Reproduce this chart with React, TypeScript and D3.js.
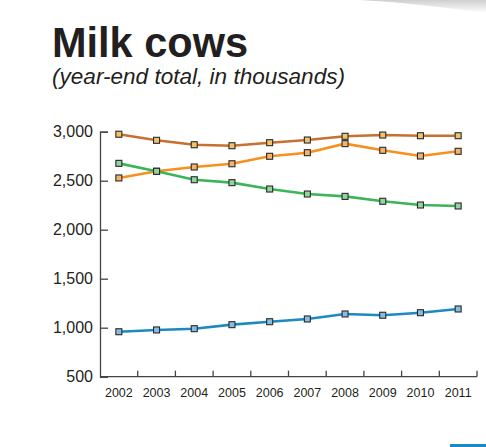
import React, { useRef, useEffect } from "react";
import * as d3 from "d3";

const years = ["2002", "2003", "2004", "2005", "2006", "2007", "2008", "2009", "2010", "2011"];

// (thousands of head)
const brownSeries = [2974, 2912, 2867, 2857, 2888, 2915, 2953, 2966, 2959, 2959];
const orangeSeries = [2528, 2596, 2640, 2673, 2749, 2786, 2878, 2810, 2752, 2800];
const greenSeries = [2677, 2596, 2510, 2480, 2415, 2364, 2340, 2290, 2252, 2242];
const blueSeries = [959, 977, 990, 1031, 1061, 1089, 1140, 1127, 1153, 1191];

const yTicks = [500, 1000, 1500, 2000, 2500, 3000];

const seriesList = [
  { name: "brown", values: brownSeries, line: "#c7702f", fill: "#f1c36a" },
  { name: "orange", values: orangeSeries, line: "#f7901e", fill: "#f4b56b" },
  { name: "green", values: greenSeries, line: "#3bb557", fill: "#92d3a0" },
  { name: "blue", values: blueSeries, line: "#1b8ac0", fill: "#86bde0" },
];

const App: React.FC = () => {
  const svgRef = useRef<SVGSVGElement | null>(null);

  useEffect(() => {
    const width = 486;
    const left = 100;
    const right = 477;
    const top = 131.7;
    const bottom = 376.7;

    const svg = d3.select(svgRef.current);
    svg.selectAll("*").remove();

    // page shadow top right
    const defs = svg.append("defs");
    const grad = defs.append("linearGradient")
      .attr("id", "shade")
      .attr("x1", 0).attr("y1", 0).attr("x2", 0).attr("y2", 1);
    grad.append("stop").attr("offset", "0%").attr("stop-color", "#cfcfcf");
    grad.append("stop").attr("offset", "100%").attr("stop-color", "#ffffff");
    svg.append("path")
      .attr("d", `M360,0 L${width},0 L${width},13 C440,7 400,2 360,0 Z`)
      .attr("fill", "url(#shade)");

    // blue tab bottom right
    svg.append("rect")
      .attr("x", 450).attr("y", 444).attr("width", 36).attr("height", 3)
      .attr("fill", "#1b8ac0");

    // titles
    svg.append("text")
      .attr("x", 52)
      .attr("y", 57)
      .attr("textLength", 196)
      .attr("lengthAdjust", "spacingAndGlyphs")
      .style("font-family", "'Liberation Sans', Arial, sans-serif")
      .style("font-weight", "bold")
      .style("font-size", "43px")
      .attr("fill", "#231f20")
      .text("Milk cows");

    svg.append("text")
      .attr("x", 52)
      .attr("y", 84)
      .attr("textLength", 293)
      .attr("lengthAdjust", "spacingAndGlyphs")
      .style("font-family", "'Liberation Sans', Arial, sans-serif")
      .style("font-style", "italic")
      .style("font-size", "22px")
      .attr("fill", "#231f20")
      .text("(year-end total, in thousands)");

    const x = d3.scaleBand<string>().domain(years).range([left, right]);
    const y = d3.scaleLinear().domain([500, 3000]).range([bottom, top]);

    // y axis, ticks pointing into the plot
    const yAxis = d3.axisLeft(y)
      .tickValues(yTicks)
      .tickSize(-8)
      .tickPadding(7)
      .tickFormat((d) => d3.format(",")(d as number));
    const gy = svg.append("g").attr("transform", `translate(${left},0)`).call(yAxis);
    gy.select(".domain").attr("stroke", "#444").attr("stroke-width", 1.3);
    gy.selectAll(".tick line").attr("stroke", "#444").attr("stroke-width", 1.3);
    gy.selectAll(".tick text")
      .attr("fill", "#231f20")
      .style("font-family", "'Liberation Sans', Arial, sans-serif")
      .style("font-size", "16px");

    // x axis with ticks at band boundaries
    const gx = svg.append("g").attr("transform", `translate(0,${bottom})`);
    gx.append("line")
      .attr("x1", left).attr("x2", right).attr("y1", 0).attr("y2", 0)
      .attr("stroke", "#444").attr("stroke-width", 1.3);
    gx.selectAll("line.tk")
      .data(years)
      .join("line")
      .attr("class", "tk")
      .attr("x1", (d) => (x(d) as number) + x.bandwidth())
      .attr("x2", (d) => (x(d) as number) + x.bandwidth())
      .attr("y1", 0).attr("y2", -6)
      .attr("stroke", "#444").attr("stroke-width", 1.3);
    gx.selectAll("text")
      .data(years)
      .join("text")
      .attr("x", (d) => (x(d) as number) + x.bandwidth() / 2)
      .attr("y", 20)
      .attr("text-anchor", "middle")
      .attr("fill", "#231f20")
      .style("font-family", "'Liberation Sans', Arial, sans-serif")
      .style("font-size", "12.5px")
      .text((d) => d);

    const line = d3.line<number>()
      .x((_, i) => (x(years[i]) as number) + x.bandwidth() / 2)
      .y((d) => y(d));

    seriesList.forEach((s) => {
      const g = svg.append("g");
      g.append("path")
        .datum(s.values)
        .attr("d", line)
        .attr("fill", "none")
        .attr("stroke", s.line)
        .attr("stroke-width", 2.6);
      g.selectAll("rect")
        .data(s.values)
        .join("rect")
        .attr("x", (_, i) => (x(years[i]) as number) + x.bandwidth() / 2 - 3)
        .attr("y", (d) => y(d) - 3)
        .attr("width", 6)
        .attr("height", 6)
        .attr("fill", s.fill)
        .attr("stroke", "#2a2a2a")
        .attr("stroke-width", 1.1);
    });
  }, []);

  return (
    <svg
      ref={svgRef}
      width={486}
      height={447}
      style={{ position: "absolute", left: 0, top: 0, background: "#fff" }}
    />
  );
};

export default App;
